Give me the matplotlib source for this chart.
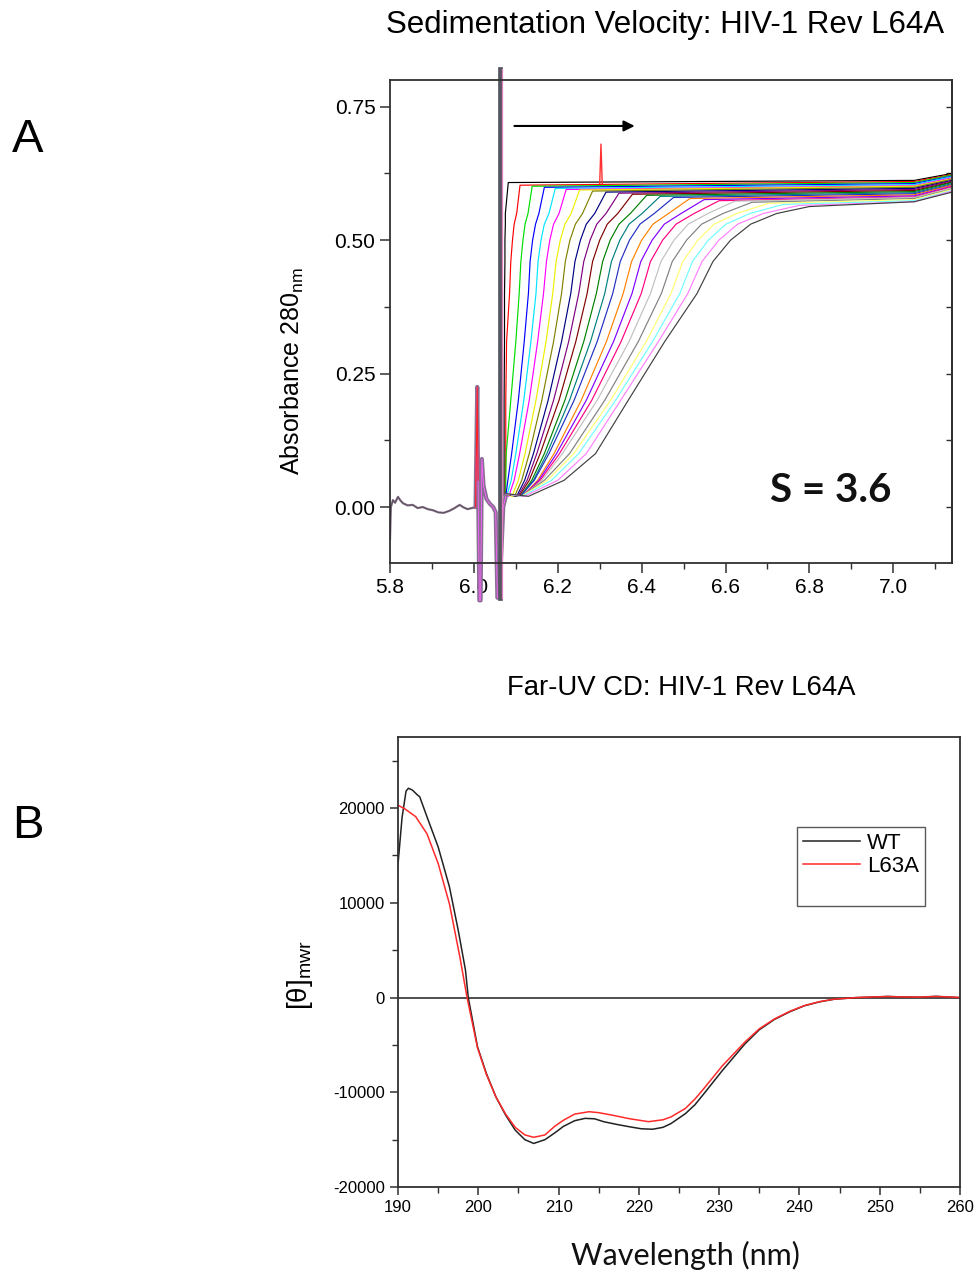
import matplotlib
matplotlib.use("Agg")
import matplotlib.pyplot as plt
from matplotlib.ticker import MultipleLocator, FormatStrFormatter, NullFormatter

plt.rcParams["font.family"] = ["Liberation Sans", "DejaVu Sans"]
plt.rcParams["axes.unicode_minus"] = False
plt.rcParams["mathtext.default"] = "regular"

# ---------- A: sedimentation velocity scans ----------
# absorbance levels at which each scan's radius was read
LEVELS = [0.02, 0.05, 0.10, 0.20, 0.31, 0.40, 0.46, 0.50, 0.53, 0.55]
SCAN_COLORS = ["#000000", "#ff0000", "#00dd00", "#0000ff", "#00e5ff", "#ff00ff",
               "#eeee00", "#808000", "#000080", "#800080", "#800000", "#008000",
               "#008080", "#2030c0", "#ff8000", "#8000ff", "#ff0080", "#c0c0c0",
               "#808080", "#ffff70", "#70ffff", "#ff80ff", "#404040"]
SCAN_X = [
    [6.072, 6.072, 6.072, 6.072, 6.073, 6.073, 6.074, 6.074, 6.075, 6.075],
    [6.075, 6.075, 6.076, 6.076, 6.078, 6.085, 6.088, 6.092, 6.096, 6.102],
    [6.076, 6.076, 6.077, 6.088, 6.100, 6.108, 6.112, 6.117, 6.122, 6.129],
    [6.076, 6.081, 6.090, 6.106, 6.120, 6.130, 6.134, 6.140, 6.147, 6.155],
    [6.078, 6.089, 6.100, 6.119, 6.136, 6.148, 6.153, 6.160, 6.168, 6.179],
    [6.083, 6.096, 6.109, 6.132, 6.152, 6.166, 6.173, 6.181, 6.190, 6.203],
    [6.091, 6.106, 6.122, 6.148, 6.172, 6.188, 6.196, 6.206, 6.217, 6.232],
    [6.097, 6.114, 6.132, 6.162, 6.190, 6.209, 6.218, 6.229, 6.242, 6.259],
    [6.102, 6.121, 6.142, 6.177, 6.209, 6.231, 6.241, 6.254, 6.268, 6.288],
    [6.105, 6.127, 6.150, 6.190, 6.226, 6.250, 6.262, 6.277, 6.293, 6.315],
    [6.108, 6.132, 6.158, 6.203, 6.243, 6.270, 6.283, 6.300, 6.318, 6.343],
    [6.111, 6.138, 6.168, 6.217, 6.262, 6.292, 6.307, 6.325, 6.346, 6.373],
    [6.111, 6.142, 6.174, 6.228, 6.278, 6.312, 6.328, 6.348, 6.370, 6.401],
    [6.111, 6.144, 6.179, 6.239, 6.294, 6.331, 6.349, 6.371, 6.396, 6.430],
    [6.116, 6.152, 6.191, 6.256, 6.316, 6.356, 6.376, 6.400, 6.427, 6.464],
    [6.116, 6.155, 6.197, 6.268, 6.333, 6.377, 6.398, 6.425, 6.454, 6.494],
    [6.116, 6.158, 6.204, 6.281, 6.351, 6.399, 6.421, 6.450, 6.482, 6.525],
    [6.116, 6.162, 6.211, 6.294, 6.370, 6.421, 6.446, 6.477, 6.511, 6.558],
    [6.113, 6.168, 6.228, 6.312, 6.392, 6.447, 6.473, 6.507, 6.543, 6.594],
    [6.113, 6.175, 6.238, 6.326, 6.411, 6.470, 6.498, 6.534, 6.573, 6.627],
    [6.115, 6.185, 6.250, 6.338, 6.426, 6.491, 6.521, 6.559, 6.601, 6.658],
    [6.120, 6.200, 6.268, 6.350, 6.440, 6.510, 6.544, 6.584, 6.629, 6.690],
    [6.130, 6.215, 6.290, 6.368, 6.455, 6.532, 6.570, 6.612, 6.660, 6.722],
]
# point where each scan reaches its plateau
JOIN_X = [6.082, 6.110, 6.139, 6.168, 6.194, 6.220, 6.252, 6.283, 6.315, 6.346,
          6.378, 6.412, 6.444, 6.476, 6.515, 6.549, 6.585, 6.622, 6.663, 6.702,
          6.738, 6.775, 6.800]
JOIN_A = [0.608, 0.603, 0.601, 0.599, 0.597, 0.595, 0.594, 0.592, 0.590, 0.588,
          0.586, 0.584, 0.582, 0.580, 0.578, 0.576, 0.574, 0.573, 0.571, 0.569,
          0.567, 0.565, 0.563]
PLAT_X = [7.05, 7.14]
PLAT_MID = [0.612, 0.610, 0.608, 0.606, 0.604, 0.602, 0.601, 0.599, 0.597, 0.595,
            0.593, 0.591, 0.589, 0.587, 0.585, 0.583, 0.581, 0.580, 0.578, 0.576,
            0.574, 0.572, 0.572]
PLAT_END = [0.625, 0.623, 0.622, 0.620, 0.619, 0.617, 0.615, 0.614, 0.612, 0.611,
            0.609, 0.608, 0.606, 0.604, 0.603, 0.601, 0.600, 0.598, 0.596, 0.595,
            0.593, 0.592, 0.590]
MENISCUS_BASE = (6.076, 0.025)

# air region / window reflections (shared by all scans)
BASE_X = [5.800, 5.802, 5.807, 5.812, 5.819, 5.825, 5.831, 5.842, 5.854, 5.866,
          5.878, 5.890, 5.902, 5.915, 5.928, 5.942, 5.954, 5.966, 5.976, 5.985,
          5.995, 6.004]
BASE_A = [-0.060, 0.000, 0.013, 0.008, 0.019, 0.012, 0.007, 0.003, 0.004, -0.002,
          0.000, -0.004, -0.006, -0.010, -0.011, -0.007, -0.002, 0.004, -0.001,
          -0.004, -0.002, 0.000]
SPIKE_X = [6.004, 6.008, 6.010, 6.013, 6.016, 6.019, 6.023, 6.030, 6.038, 6.046,
           6.052, 6.056, 6.060, 6.066, 6.070, 6.076]
SPIKE_A = [0.000, 0.225, 0.050, -0.175, -0.175, 0.090, 0.040, 0.015, 0.006, 0.000,
           -0.010, -0.170, -0.170, -0.075, 0.000, 0.020]
MENISCUS_X = 6.062
RED_GLITCH_X = [6.300, 6.303, 6.306]
RED_GLITCH_A = [0.606, 0.680, 0.606]

# ---------- B: far-UV CD ----------
WT_NM = [190.0, 190.5, 191.0, 191.3, 191.8, 192.4, 192.7, 193.6, 195.0, 196.4,
         197.5, 198.4, 198.75, 199.9, 201.0, 202.2, 203.4, 204.6, 205.8, 206.9,
         208.3, 209.5, 210.6, 212.0, 213.3, 214.5, 215.6, 217.3, 218.9, 220.3,
         221.7, 223.0, 224.0, 225.8, 227.0, 228.1, 230.4, 233.2, 235.0, 236.9,
         238.8, 240.6, 242.5, 244.3, 247.1, 249.0, 251.0, 253.0, 255.0, 257.0,
         259.0, 260.0]
WT_THETA = [14100, 19000, 21800, 22100, 21900, 21400, 21200, 19100, 15900, 11700,
            7100, 2900, 0, -5200, -8000, -10500, -12400, -14000, -15000, -15400,
            -15000, -14300, -13600, -13000, -12750, -12800, -13100, -13400, -13650, -13850,
            -13900, -13700, -13300, -12250, -11300, -10150, -7700, -4900, -3400, -2300,
            -1500, -870, -450, -180, 0, 50, 120, 60, 40, 130,
            40, 0]
L63A_NM = [190.0, 190.8, 192.2, 193.6, 195.0, 196.4, 197.7, 198.6, 199.9, 201.0,
           202.2, 203.4, 204.6, 205.8, 206.9, 208.3, 209.5, 210.6, 212.0, 213.8,
           215.0, 216.6, 218.9, 221.2, 223.0, 224.0, 225.8, 227.0, 228.1, 230.4,
           233.2, 235.0, 236.9, 238.8, 240.6, 242.5, 244.3, 247.1, 249.0, 251.0,
           253.0, 255.0, 257.0, 259.0, 260.0]
L63A_THETA = [20300, 19950, 19100, 17300, 14150, 9900, 4300, 0, -5300, -8100,
              -10500, -12300, -13700, -14500, -14750, -14500, -13600, -12950, -12300, -12050,
              -12150, -12400, -12800, -13100, -12900, -12600, -11700, -10700, -9600, -7200,
              -4700, -3300, -2250, -1450, -850, -430, -170, 0, 60, 110,
              60, 50, 120, 50, 0]

SPINE = "#303030"

fig = plt.figure(figsize=(9.77, 12.75), dpi=100)

# ---------------- panel A ----------------
axA = fig.add_axes([0.3992, 0.5584, 0.5752, 0.3788])
for xs, col, xj, aj, pm, pe in zip(SCAN_X, SCAN_COLORS, JOIN_X, JOIN_A, PLAT_MID, PLAT_END):
    x = [MENISCUS_BASE[0]] + xs + [xj] + PLAT_X
    y = [MENISCUS_BASE[1]] + LEVELS + [aj, pm, pe]
    axA.plot(x, y, color=col, lw=0.85)
axA.plot(RED_GLITCH_X, RED_GLITCH_A, color="#ff3030", lw=1.0)

axA.plot(BASE_X, BASE_A, color="#8c7090", lw=1.6)
axA.plot(BASE_X, BASE_A, color="#505050", lw=0.6)
axA.plot(SPIKE_X, SPIKE_A, color="#8a6f95", lw=3.0, clip_on=False)
axA.plot(SPIKE_X, SPIKE_A, color="#ff60ff", lw=0.6, clip_on=False)
axA.plot(SPIKE_X[:3], SPIKE_A[:3], color="#ff2020", lw=0.8)
# meniscus
axA.plot([MENISCUS_X, MENISCUS_X], [-0.17, 0.82], color="#555560", lw=3.4, clip_on=False)
axA.plot([MENISCUS_X + 0.004, MENISCUS_X + 0.004], [-0.17, 0.82], color="#e080c0",
         lw=0.9, clip_on=False)

axA.annotate("", xy=(6.39, 0.714), xytext=(6.09, 0.714),
             arrowprops=dict(arrowstyle="-|>", color="black", lw=1.5, mutation_scale=16))
axA.text(6.85, 0.03, "S = 3.6", ha="center", va="center", fontsize=29,
         family=["Lato", "DejaVu Sans"], fontweight="bold", color="#111111")

axA.set_xlim(5.8, 7.14)
axA.set_ylim(-0.105, 0.80)
axA.xaxis.set_major_locator(MultipleLocator(0.2))
axA.xaxis.set_minor_locator(MultipleLocator(0.1))
axA.yaxis.set_major_locator(MultipleLocator(0.25))
axA.yaxis.set_minor_locator(MultipleLocator(0.125))
axA.xaxis.set_major_formatter(FormatStrFormatter("%.1f"))
axA.yaxis.set_major_formatter(FormatStrFormatter("%.2f"))
axA.tick_params(which="major", direction="out", length=7, width=1.1, labelsize=15, colors=SPINE,
                labelcolor="black")
axA.tick_params(which="minor", direction="out", length=4, width=1.0, colors=SPINE)
for s in axA.spines.values():
    s.set_color(SPINE)
    s.set_linewidth(1.3)
secA = axA.secondary_yaxis("right")
secA.yaxis.set_major_locator(MultipleLocator(0.125))
secA.yaxis.set_major_formatter(NullFormatter())
secA.tick_params(direction="in", length=4, width=1.0, colors=SPINE)
secA.spines["right"].set_color(SPINE)
secA.spines["right"].set_linewidth(1.3)

fig.text(0.681, 0.980, "Sedimentation Velocity: HIV-1 Rev L64A", ha="center", va="center",
         fontsize=22.5)
fig.text(0.299, 0.709, "Absorbance 280$_{nm}$", rotation=90, ha="center", va="center",
         fontsize=18)
fig.text(0.0287, 0.890, "A", ha="center", va="center", fontsize=34)

# ---------------- panel B ----------------
axB = fig.add_axes([0.4074, 0.0690, 0.5752, 0.3529])
axB.axhline(0, color="#303030", lw=1.2)
axB.plot(WT_NM, WT_THETA, color="#222222", lw=1.1, label="WT")
axB.plot(L63A_NM, L63A_THETA, color="#ff2a2a", lw=1.1, label="L63A")
axB.plot([], [], color="none", label=" ")
axB.set_xlim(190, 260)
axB.set_ylim(-20000, 27500)
axB.xaxis.set_major_locator(MultipleLocator(10))
axB.xaxis.set_minor_locator(MultipleLocator(5))
axB.yaxis.set_major_locator(MultipleLocator(10000))
axB.yaxis.set_minor_locator(MultipleLocator(5000))
axB.tick_params(which="major", direction="out", length=6, width=1.1, labelsize=12, colors=SPINE,
                labelcolor="black")
axB.tick_params(which="minor", direction="out", length=4, width=1.0, colors=SPINE)
for s in axB.spines.values():
    s.set_color(SPINE)
    s.set_linewidth(1.3)
leg = axB.legend(loc="upper left", bbox_to_anchor=(0.71, 0.80), fontsize=16, frameon=True,
                 fancybox=False, handlelength=2.6, handletextpad=0.3, borderpad=0.25,
                 labelspacing=0.1, borderaxespad=0)
leg.get_frame().set_edgecolor("#303030")
leg.get_frame().set_linewidth(1.0)

fig.text(0.6975, 0.4604, "Far-UV CD: HIV-1 Rev L64A", ha="center", va="center", fontsize=19.8)
fig.text(0.307, 0.235, "[θ]$_{mwr}$", rotation=90, ha="center", va="center", fontsize=20)
fig.text(0.702, 0.0157, "Wavelength (nm)", ha="center", va="center", fontsize=22,
         family=["Lato", "DejaVu Sans"], color="#111111")
fig.text(0.0287, 0.352, "B", ha="center", va="center", fontsize=34)

fig.savefig("out.png", dpi=100)
